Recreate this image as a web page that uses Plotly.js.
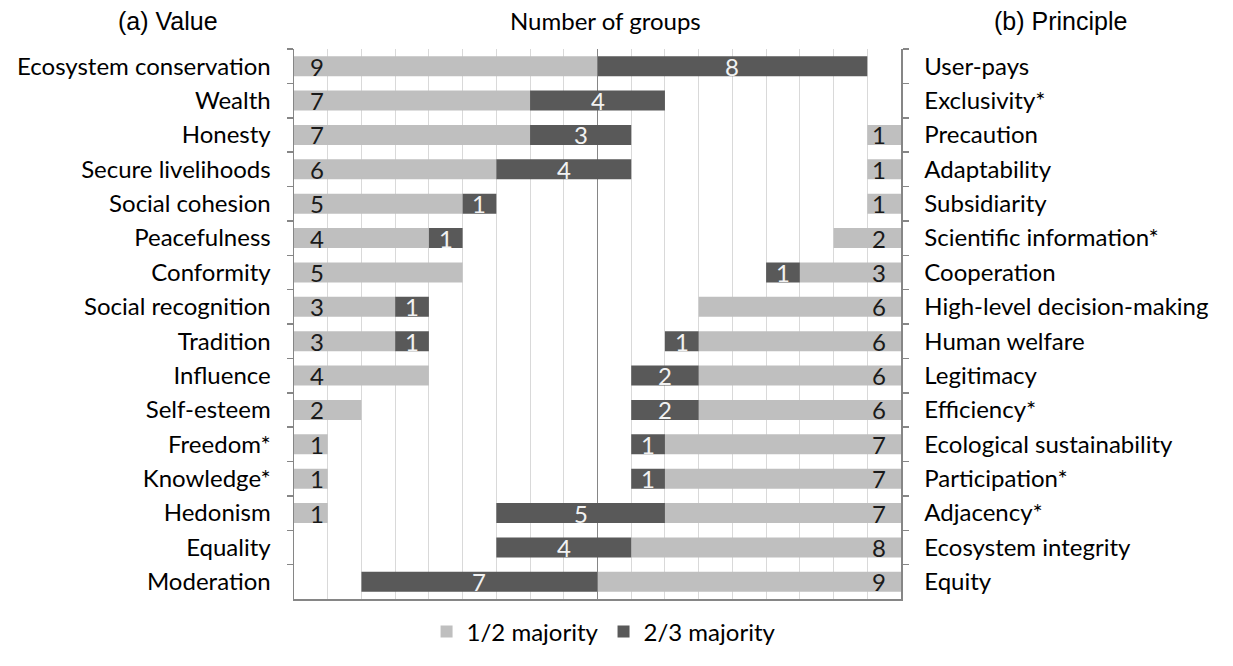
<!DOCTYPE html>
<html>
<head>
<meta charset="utf-8">
<script src="https://cdn.plot.ly/plotly-3.0.1.min.js"></script>
<style>html,body{margin:0;padding:0;background:#fff;}#chart{width:1233px;height:666px;}</style>
</head>
<body>
<div id="chart"></div>
<script>
// ---- Data ----
const values = ['Ecosystem conservation','Wealth','Honesty','Secure livelihoods','Social cohesion','Peacefulness','Conformity','Social recognition','Tradition','Influence','Self-esteem','Freedom*','Knowledge*','Hedonism','Equality','Moderation'];
const valueHalf = [9,7,7,6,5,4,5,3,3,4,2,1,1,1,0,0];
const valueTwoThirds = [8,4,3,4,1,1,0,1,1,0,0,0,0,0,0,0];

const principles = ['User-pays','Exclusivity*','Precaution','Adaptability','Subsidiarity','Scientific information*','Cooperation','High-level decision-making','Human welfare','Legitimacy','Efficiency*','Ecological sustainability','Participation*','Adjacency*','Ecosystem integrity','Equity'];
const principleHalf = [0,0,1,1,1,2,3,6,6,6,6,7,7,7,8,9];
const principleTwoThirds = [0,0,0,0,0,0,1,0,1,2,2,1,1,5,4,7];

const seriesNames = ['1/2 majority','2/3 majority'];
const SIDE = 9; // groups per side

// ---- Styles ----
const LIGHT = '#bfbfbf', DARK = '#595959';
const FONT = 'Lato, "Open Sans", sans-serif';
const FS = 24;
const BW = 0.58;

const traces = [
  {type:'bar', orientation:'h', name:seriesNames[0], y:values, x:valueHalf,
   base:valueHalf.map(()=>-SIDE), yaxis:'y', marker:{color:LIGHT}, width:BW, hoverinfo:'skip'},
  {type:'bar', orientation:'h', name:seriesNames[1], y:values, x:valueTwoThirds,
   base:valueHalf.map(v=>-SIDE+v), yaxis:'y', marker:{color:DARK}, width:BW, hoverinfo:'skip'},
  {type:'bar', orientation:'h', name:seriesNames[0], y:principles, x:principleHalf,
   base:principleHalf.map(v=>SIDE-v), yaxis:'y2', marker:{color:LIGHT}, width:BW, showlegend:false, hoverinfo:'skip'},
  {type:'bar', orientation:'h', name:seriesNames[1], y:principles, x:principleTwoThirds,
   base:principleHalf.map((v,i)=>SIDE-v-principleTwoThirds[i]), yaxis:'y2', marker:{color:DARK}, width:BW, showlegend:false, hoverinfo:'skip'}
];

const ann = [];
values.forEach((c,i)=>{
  if (valueHalf[i]>0) ann.push({x:-SIDE, y:c, xref:'x', yref:'y', text:String(valueHalf[i]), showarrow:false,
    xanchor:'left', xshift:14, font:{family:FONT,size:FS,color:'#1a1a1a'}});
  if (valueTwoThirds[i]>0) ann.push({x:-SIDE+valueHalf[i]+valueTwoThirds[i]/2, y:c, xref:'x', yref:'y', text:String(valueTwoThirds[i]), showarrow:false,
    xanchor:'center', font:{family:FONT,size:FS,color:'#f2f2f2'}});
});
principles.forEach((c,i)=>{
  if (principleHalf[i]>0) ann.push({x:SIDE, y:c, xref:'x', yref:'y2', text:String(principleHalf[i]), showarrow:false,
    xanchor:'right', xshift:-13, font:{family:FONT,size:FS,color:'#1a1a1a'}});
  if (principleTwoThirds[i]>0) ann.push({x:SIDE-principleHalf[i]-principleTwoThirds[i]/2, y:c, xref:'x', yref:'y2', text:String(principleTwoThirds[i]), showarrow:false,
    xanchor:'center', font:{family:FONT,size:FS,color:'#f2f2f2'}});
});
ann.push({xref:'paper', yref:'paper', x:-0.2076, y:1.051, xanchor:'center', yanchor:'middle', text:'(a) Value', showarrow:false,
  font:{family:'"Liberation Sans", Arial, sans-serif', size:25, color:'#000'}});
ann.push({xref:'paper', yref:'paper', x:0.514, y:1.051, xanchor:'center', yanchor:'middle', text:'Number of groups', showarrow:false,
  font:{family:FONT, size:FS, color:'#000'}});
ann.push({xref:'paper', yref:'paper', x:1.262, y:1.051, xanchor:'center', yanchor:'middle', text:'(b) Principle', showarrow:false,
  font:{family:'"Liberation Sans", Arial, sans-serif', size:25, color:'#000'}});

const yCommon = {
  type:'category', range:[values.length-0.5, -0.5], showgrid:false, zeroline:false,
  showline:true, linecolor:'#868686', linewidth:1.5,
  ticks:'outside', tickson:'boundaries', ticklen:6, tickcolor:'#868686', tickwidth:1.5,
  ticklabelstandoff:17, tickfont:{family:FONT, size:FS, color:'#000'}, fixedrange:true
};

const layout = {
  width:1233, height:666,
  margin:{l:294, r:332, t:49, b:50},
  paper_bgcolor:'#fff', plot_bgcolor:'#fff',
  barmode:'overlay',
  showlegend:true,
  legend:{orientation:'h', x:0.51, xanchor:'center', y:-0.06, yanchor:'middle',
    font:{family:FONT, size:FS, color:'#000'}, traceorder:'normal', itemclick:false},
  xaxis:{range:[-SIDE, SIDE], dtick:1, tick0:0, showgrid:true, gridcolor:'#d9d9d9', gridwidth:1,
    zeroline:true, zerolinecolor:'#868686', zerolinewidth:1.5,
    showline:true, linecolor:'#868686', linewidth:1.5, showticklabels:false, ticks:'', fixedrange:true},
  yaxis:Object.assign({}, yCommon, {side:'left', categoryarray:values, categoryorder:'array'}),
  yaxis2:Object.assign({}, yCommon, {side:'right', overlaying:'y', anchor:'x', categoryarray:principles, categoryorder:'array'}),
  annotations:ann
};

Plotly.newPlot('chart', traces, layout, {staticPlot:true, displayModeBar:false});
</script>
</body>
</html>
